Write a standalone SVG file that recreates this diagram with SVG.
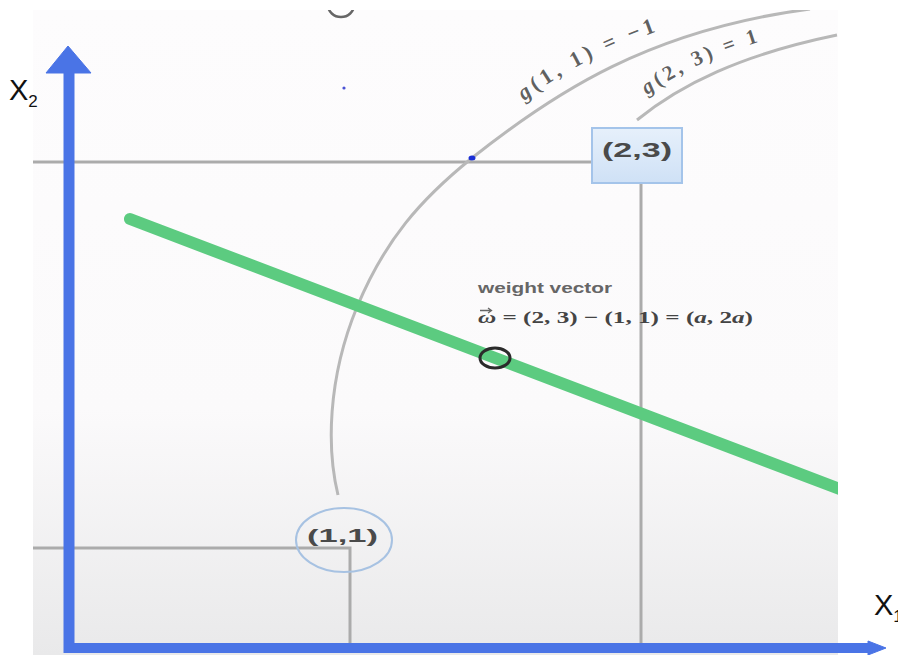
<svg xmlns="http://www.w3.org/2000/svg" width="898" height="655" viewBox="0 0 898 655">
  <defs>
    <linearGradient id="bg" x1="0" y1="0" x2="0" y2="1">
      <stop offset="0" stop-color="#fdfcfd"/>
      <stop offset="0.62" stop-color="#fbfafb"/>
      <stop offset="1" stop-color="#e9e9ea"/>
    </linearGradient>
    <linearGradient id="boxfill" x1="0" y1="0" x2="0" y2="1">
      <stop offset="0" stop-color="#e6f0fb"/>
      <stop offset="1" stop-color="#cfe1f6"/>
    </linearGradient>
    <clipPath id="panel">
      <rect x="33" y="10" width="805" height="645"/>
    </clipPath>
    <path id="tp1" d="M524,101 C565,70 605,48 690,20"/>
    <path id="tp2" d="M647,95 C682,70 720,53 775,37"/>
  </defs>
  <style>
    .grid { fill: none; stroke: #ababab; stroke-width: 3; }
    .arc { fill: none; stroke: #b8b8b8; stroke-width: 3; }
    .axis { stroke: #4a74e6; fill: #4a74e6; }
    .math { font-family: "Liberation Serif", "DejaVu Serif", serif; fill: #444; }
    .lbl { font-family: "Liberation Sans", Arial, sans-serif; font-weight: bold; fill: #4a4a4a; }
    .axlbl { font-family: "Liberation Sans", Arial, sans-serif; fill: #111; }
  </style>

  <rect x="0" y="0" width="898" height="655" fill="#ffffff"/>
  <rect x="33" y="10" width="805" height="645" fill="url(#bg)"/>

  <g id="plot" clip-path="url(#panel)">
    <g id="gridlines">
      <polyline class="grid" points="33,162 641,162 641,645"/>
      <polyline class="grid" points="33,548 350,548 350,645"/>
    </g>
    <g id="arcs">
      <path id="arc-g11" class="arc" d="M338,495 C327,450 327,380 357,307 C385,240 420,200 472,158 C555,92 650,30 810,9"/>
      <path id="arc-g23" class="arc" d="M637,120 C680,85 740,55 837,35"/>
    </g>
    <g id="arc-labels">
      <text class="math" font-size="22" font-weight="bold" fill-opacity="0.85" letter-spacing="4"><textPath href="#tp1"><tspan font-style="italic">g</tspan>(1, 1) = −1</textPath></text>
      <text class="math" font-size="21" font-weight="bold" fill-opacity="0.85" letter-spacing="3.5"><textPath href="#tp2"><tspan font-style="italic">g</tspan>(2, 3) = 1</textPath></text>
    </g>
    <ellipse id="top-ring" cx="341" cy="5" rx="13" ry="12" fill="none" stroke="#666" stroke-width="2.5"/>
    <circle id="dot1" cx="344" cy="88" r="1.6" fill="#4a52d4"/>
    <ellipse id="dot2" cx="472" cy="158" rx="3.5" ry="2.5" fill="#1b2fd6"/>

    <line id="boundary" x1="130" y1="219" x2="870" y2="500.6" stroke="#5ccb80" stroke-width="12" stroke-linecap="round"/>
    <ellipse id="midpoint" cx="495" cy="358" rx="15" ry="10" fill="none" stroke="#2b2b2b" stroke-width="3"/>

    <g id="node-23">
      <rect x="592" y="128" width="90" height="55" fill="url(#boxfill)" stroke="#a4c4ea" stroke-width="2"/>
      <text class="lbl" x="602" y="157" font-size="21" textLength="70" lengthAdjust="spacingAndGlyphs">(2,3)</text>
    </g>
    <g id="node-11">
      <ellipse cx="344" cy="540" rx="48" ry="32" fill="none" stroke="#a7c2e2" stroke-width="2"/>
      <text class="lbl" x="307" y="542" font-size="19" textLength="71" lengthAdjust="spacingAndGlyphs">(1,1)</text>
    </g>
    <g id="weight-label">
      <text x="478" y="293" font-family="Liberation Sans, Arial, sans-serif" font-size="15" font-weight="bold" fill="#666" textLength="134" lengthAdjust="spacingAndGlyphs">weight vector</text>
      <text class="math" x="478" y="323" font-size="17" font-weight="bold" fill="#555" textLength="275" lengthAdjust="spacingAndGlyphs"><tspan font-style="italic">ω</tspan> = (2, 3) − (1, 1) = (<tspan font-style="italic">a</tspan>, 2<tspan font-style="italic">a</tspan>)</text>
      <path d="M480,310.5 H491 M488,308 L491.5,310.5 L488,313" fill="none" stroke="#666" stroke-width="1.3"/>
    </g>
  </g>

  <g id="axes">
    <line class="axis" x1="69" y1="70" x2="69" y2="653" stroke-width="11"/>
    <polygon class="axis" points="68,46 46,73 91,73"/>
    <line class="axis" x1="64" y1="648" x2="872" y2="648" stroke-width="10"/>
    <polygon class="axis" points="868,641 886,648 868,655"/>
  </g>
  <g id="axis-labels">
    <text class="axlbl" x="9" y="100" font-size="29">X<tspan font-size="17" dy="7">2</tspan></text>
    <text class="axlbl" x="874" y="615" font-size="29">X<tspan font-size="17" dy="7">1</tspan></text>
  </g>
</svg>
